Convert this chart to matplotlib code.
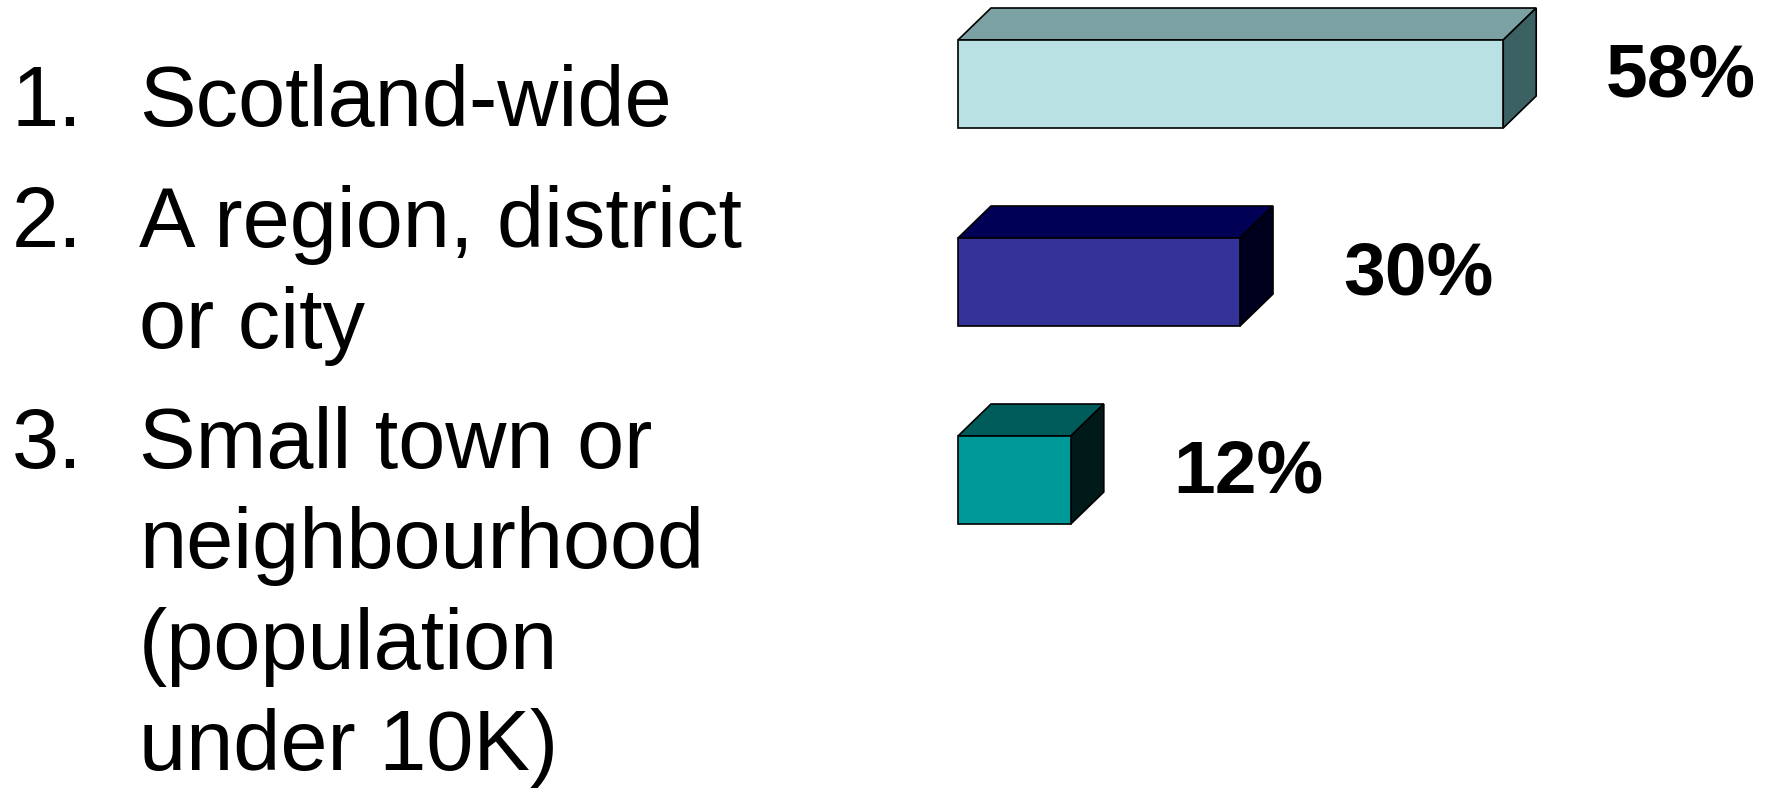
import matplotlib
matplotlib.use("Agg")
import matplotlib.pyplot as plt
from matplotlib.patches import Polygon

# ---- data ----
items = ["Scotland-wide",
         "A region, district\nor city",
         "Small town or\nneighbourhood\n(population\nunder 10K)"]
numbers = ["1.", "2.", "3."]
values = [58, 30, 12]
labels = ["58%", "30%", "12%"]
front_colors = ["#B9E0E2", "#333399", "#009999"]
top_colors = ["#7BA1A2", "#000055", "#005B5B"]
side_colors = ["#3B6163", "#00001E", "#001A1A"]

W, H = 1775, 797
fig = plt.figure(figsize=(W / 100, H / 100), dpi=100)
fig.patch.set_facecolor("white")

# bar axes: whole figure, x in percent, y in category units
px_per_pct = 9.4
x0_px = 958
ax = fig.add_axes([0, 0, 1, 1])
ax.set_xlim(-x0_px / px_per_pct, (W - x0_px) / px_per_pct)
unit_px = 198
y0_px = 84
ax.set_ylim((H - y0_px) / unit_px, -y0_px / unit_px)
ax.axis("off")

bar_h = 88 / unit_px
dx = 33 / px_per_pct
dy = 32 / unit_px

for i, v in enumerate(values):
    yc = i
    yt = yc - bar_h / 2
    yb = yc + bar_h / 2
    # top face
    ax.add_patch(Polygon([(0, yt), (v, yt), (v + dx, yt - dy), (dx, yt - dy)],
                         closed=True, facecolor=top_colors[i], edgecolor="black", lw=1.2))
    # side face
    ax.add_patch(Polygon([(v, yt), (v + dx, yt - dy), (v + dx, yb - dy), (v, yb)],
                         closed=True, facecolor=side_colors[i], edgecolor="black", lw=1.2))
    # front face
    ax.add_patch(Polygon([(0, yt), (v, yt), (v, yb), (0, yb)],
                         closed=True, facecolor=front_colors[i], edgecolor="black", lw=1.2))
    ax.annotate(labels[i], xy=(v, yc - 0.035), xytext=(74, 0), textcoords="offset points",
                ha="left", va="center", fontsize=54, fontweight="bold",
                family="Liberation Sans", color="black")

# left list text
baselines_first = [126, 247, 468]
line_step = 100.5
for i, (num, txt) in enumerate(zip(numbers, items)):
    yb = baselines_first[i]
    fig.text(12 / W, 1 - yb / H, num, ha="left", va="baseline", fontsize=61,
             family="Liberation Sans", color="black")
    for j, line in enumerate(txt.split("\n")):
        fig.text(139 / W, 1 - (yb + j * line_step) / H, line, ha="left", va="baseline",
                 fontsize=61, family="Liberation Sans", color="black")

fig.savefig("out.png", dpi=100, facecolor="white")
